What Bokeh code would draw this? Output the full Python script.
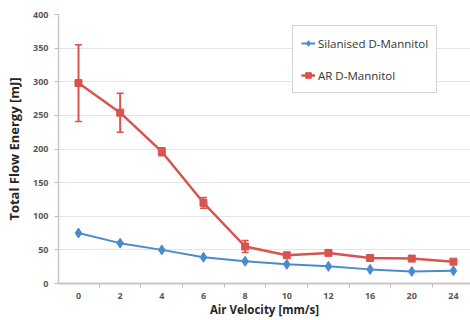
from bokeh.plotting import figure
from bokeh.models import (ColumnDataSource, Range1d, FixedTicker, Whisker, TeeHead,
                          Legend, LegendItem)
from bokeh.embed import file_html
from bokeh.resources import INLINE

velocity = ["0", "2", "4", "6", "8", "10", "12", "16", "20", "24"]
silanised = [75, 60, 50, 39, 33, 28.5, 25.5, 21, 18, 19]
ar = [298, 254, 196, 120, 55, 42, 45.5, 38, 37, 32.5]
ar_err = [57, 29, 6, 8, 9, 2, 2, 1, 1, 1]
y_ticks = [0, 50, 100, 150, 200, 250, 300, 350, 400]

BLUE = "#4A8BD0"
RED = "#D9534F"
FONT = "Open Sans"

x = list(range(len(velocity)))
src = ColumnDataSource(dict(
    x=x, sil=silanised, ar=ar,
    lower=[a - e for a, e in zip(ar, ar_err)],
    upper=[a + e for a, e in zip(ar, ar_err)],
))

p = figure(width=470, height=320, output_backend="svg", toolbar_location=None,
           x_range=Range1d(-0.48, 9.41), y_range=Range1d(0, 400),
           min_border_left=58, min_border_right=0, min_border_top=14, min_border_bottom=37)
p.outline_line_color = None
p.background_fill_color = "white"
p.border_fill_color = "white"

# grid
p.xgrid.grid_line_color = None
p.ygrid.grid_line_color = "#E4E4E4"
p.ygrid.ticker = FixedTicker(ticks=y_ticks)

# x axis
xa = p.xaxis[0]
xa.ticker = FixedTicker(ticks=x, minor_ticks=[i - 0.5 for i in range(len(velocity) + 1)])
xa.major_label_overrides = {i: v for i, v in zip(x, velocity)}
xa.major_tick_out = 0
xa.major_tick_in = 0
xa.minor_tick_out = 4
xa.minor_tick_in = 0
xa.minor_tick_line_color = "#BFBFBF"
xa.axis_line_color = "#C8C8C8"
xa.axis_line_width = 2
xa.major_label_text_font = FONT
xa.major_label_text_font_style = "bold"
xa.major_label_text_font_size = "9px"
xa.major_label_text_color = "#595959"
xa.major_label_standoff = 5
xa.axis_label = "Air Velocity [mm/s]"
xa.axis_label_text_font = FONT
xa.axis_label_text_font_style = "bold"
xa.axis_label_text_font_size = "11.5px"
xa.axis_label_text_color = "#262626"
xa.axis_label_standoff = 0

# y axis
ya = p.yaxis[0]
ya.ticker = FixedTicker(ticks=y_ticks)
ya.major_tick_out = 4
ya.major_tick_in = 0
ya.minor_tick_out = 0
ya.minor_tick_in = 0
ya.major_tick_line_color = "#BFBFBF"
ya.axis_line_color = "#C8C8C8"
ya.axis_line_width = 1.5
ya.major_label_text_font = FONT
ya.major_label_text_font_style = "bold"
ya.major_label_text_font_size = "9px"
ya.major_label_text_color = "#595959"
ya.major_label_standoff = 6
ya.axis_label = "Total Flow Energy [mJ]"
ya.axis_label_text_font = FONT
ya.axis_label_text_font_style = "bold"
ya.axis_label_text_font_size = "13px"
ya.axis_label_text_color = "#262626"
ya.axis_label_standoff = 7

# series
l1 = p.line("x", "sil", source=src, line_color=BLUE, line_width=2)
m1 = p.scatter("x", "sil", source=src, marker="diamond", size=10,
               fill_color=BLUE, line_color=BLUE)

w = Whisker(base="x", upper="upper", lower="lower", source=src,
            line_color=RED, line_width=2,
            upper_head=TeeHead(size=7, line_color=RED, line_width=1.5),
            lower_head=TeeHead(size=7, line_color=RED, line_width=1.5))
p.add_layout(w)
l2 = p.line("x", "ar", source=src, line_color=RED, line_width=2.5)
m2 = p.scatter("x", "ar", source=src, marker="square", size=7,
               fill_color=RED, line_color=RED)

legend = Legend(items=[LegendItem(label="Silanised D-Mannitol", renderers=[l1, m1]),
                       LegendItem(label="AR D-Mannitol", renderers=[l2, m2])],
                location=(234, 190))
legend.label_text_font = FONT
legend.label_text_font_size = "11.5px"
legend.label_text_color = "#333333"
legend.glyph_width = 14
legend.glyph_height = 18
legend.label_height = 18
legend.label_standoff = 3
legend.spacing = 14
legend.padding = 8
legend.margin = 0
legend.border_line_color = "#AAAAAA"
legend.border_line_width = 1
legend.background_fill_alpha = 1
p.add_layout(legend, "center")

open("out.html", "w").write(file_html(p, INLINE))
